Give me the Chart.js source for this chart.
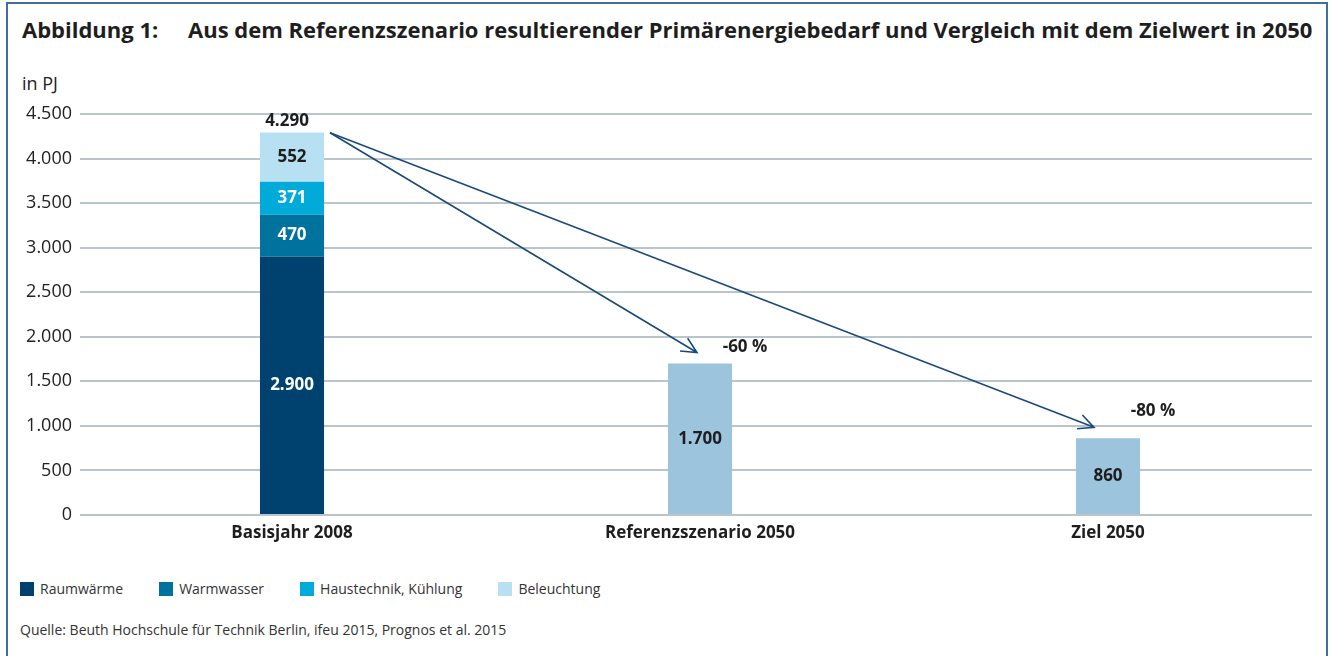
<!DOCTYPE html>
<html lang="de">
<head>
<meta charset="utf-8">
<title>Abbildung 1</title>
<script src="https://cdn.jsdelivr.net/npm/chart.js@4.4.1/dist/chart.umd.min.js"></script>
<style>
  html, body { margin: 0; padding: 0; background: #fff; }
  body { width: 1335px; height: 656px; position: relative; overflow: hidden;
         font-family: "Open Sans", "Noto Sans", sans-serif; color: #1e1e1e; }
  .frame { position: absolute; left: 6px; top: 2px; width: 1322px; height: 670px;
           border: 2px solid #3f6f9f; box-sizing: border-box; }
  h1 { position: absolute; left: 22px; top: 14px; margin: 0; font-size: 22px; line-height: 30px;
       font-weight: 700; white-space: nowrap; color: #1e1e1e; }
  h1 .txt { position: absolute; left: 166px; top: 0; }
  .unit { position: absolute; left: 22px; top: 70px; font-size: 18px; line-height: 26px; color: #222; }
  #chart { position: absolute; left: 0; top: 70px; }
  .legend { position: absolute; top: 579px; left: 20px; display: flex; gap: 36px; font-size: 14px; line-height: 20px; color: #333; }
  .legend .item { display: flex; align-items: center; white-space: nowrap; }
  .legend i { display: inline-block; width: 14px; height: 14px; margin-right: 6px; }
  .source { position: absolute; left: 20px; top: 620px; font-size: 14px; line-height: 20px; color: #333; }
</style>
</head>
<body>
<div class="frame"></div>
<h1>Abbildung 1:<span class="txt">Aus dem Referenzszenario resultierender Primärenergiebedarf und Vergleich mit dem Zielwert in 2050</span></h1>
<div class="unit">in PJ</div>
<canvas id="chart" width="1335" height="490"></canvas>
<div class="legend" id="legend"></div>
<div class="source">Quelle: Beuth Hochschule für Technik Berlin, ifeu 2015, Prognos et al. 2015</div>

<script>
// data
const categories = ['Basisjahr 2008', 'Referenzszenario 2050', 'Ziel 2050'];
const seriesNames = ['Raumwärme', 'Warmwasser', 'Haustechnik, Kühlung', 'Beleuchtung'];
const raumwaerme = [2900, null, null];
const warmwasser = [470, null, null];
const haustechnik = [371, null, null];
const beleuchtung = [552, null, null];
const szenarioWerte = [null, 1700, 860];
const basisGesamt = 4290;   // label printed above the first bar
const yMax = 4500;
const yStep = 500;

const seriesColors = ['#00426f', '#00729e', '#00aad9', '#b7e0f2'];
const szenarioColor = '#9cc4dd';
const labelColors = ['#fff', '#fff', '#fff', '#1e1e1e'];
const FONT = '"Open Sans", "Noto Sans", sans-serif';

function fmt(v) {
  return String(v).replace(/\B(?=(\d{3})+(?!\d))/g, '.');
}

const stacks = [raumwaerme, warmwasser, haustechnik, beleuchtung];

// html legend
const legendEl = document.getElementById('legend');
seriesNames.forEach((name, i) => {
  const item = document.createElement('span');
  item.className = 'item';
  item.innerHTML = '<i style="background:' + seriesColors[i] + '"></i>' + name;
  legendEl.appendChild(item);
});

const barLabels = {
  id: 'barLabels',
  afterDatasetsDraw(chart) {
    const ctx = chart.ctx;
    ctx.save();
    ctx.font = 'bold 17px ' + FONT;
    ctx.textAlign = 'center';
    ctx.textBaseline = 'middle';
    chart.data.datasets.forEach((ds, di) => {
      const meta = chart.getDatasetMeta(di);
      meta.data.forEach((bar, i) => {
        const v = ds.data[i];
        if (v == null) return;
        ctx.fillStyle = di < 4 ? labelColors[di] : '#1e1e1e';
        ctx.fillText(fmt(v), bar.x, (bar.y + bar.base) / 2);
      });
    });
    // total above first bar
    const top = chart.getDatasetMeta(3).data[0];
    ctx.fillStyle = '#1e1e1e';
    ctx.fillText(fmt(basisGesamt), top.x - 5, top.y - 11);
    ctx.restore();
  }
};

const arrows = {
  id: 'arrows',
  afterDatasetsDraw(chart, args, opts) {
    const ctx = chart.ctx;
    const y = chart.scales.y;
    const top = chart.getDatasetMeta(3).data[0];
    const sx = top.x + top.width / 2 + 6;
    const sy = y.getPixelForValue(basisGesamt);
    ctx.save();
    opts.targets.forEach(t => {
      const bar = chart.getDatasetMeta(4).data[t.index];
      const ex = bar.x + t.dx;
      const ey = bar.y - 11;
      ctx.strokeStyle = '#1a4a7a';
      ctx.lineWidth = 1.6;
      ctx.beginPath();
      ctx.moveTo(sx, sy);
      ctx.lineTo(ex, ey);
      const a = Math.atan2(ey - sy, ex - sx);
      const len = 17;
      ctx.moveTo(ex - len * Math.cos(a - 0.45), ey - len * Math.sin(a - 0.45));
      ctx.lineTo(ex, ey);
      ctx.lineTo(ex - len * Math.cos(a + 0.45), ey - len * Math.sin(a + 0.45));
      ctx.stroke();
      const pct = Math.round((szenarioWerte[t.index] / basisGesamt - 1) * 100);
      ctx.font = 'bold 17px ' + FONT;
      ctx.fillStyle = '#1e1e1e';
      ctx.textAlign = 'center';
      ctx.textBaseline = 'middle';
      ctx.fillText(pct + ' %', bar.x + 45, bar.y - t.labelGap);
    });
    ctx.restore();
  }
};

const datasets = stacks.map((arr, i) => ({
  label: seriesNames[i],
  data: arr,
  backgroundColor: seriesColors[i],
  stack: 's'
}));
datasets.push({ label: 'Szenario', data: szenarioWerte, backgroundColor: szenarioColor, stack: 's' });

new Chart(document.getElementById('chart'), {
  type: 'bar',
  data: { labels: categories, datasets: datasets },
  plugins: [barLabels, arrows],
  options: {
    responsive: false,
    devicePixelRatio: 1,
    animation: false,
    datasets: { bar: { barPercentage: 0.157, categoryPercentage: 1, skipNull: false } },
    layout: { padding: { top: 44, right: 23, left: 0, bottom: 0 } },
    plugins: {
      legend: { display: false },
      tooltip: { enabled: false },
      arrows: {
        targets: [
          { index: 1, dx: -3, labelGap: 16 },
          { index: 2, dx: -14, labelGap: 27 }
        ]
      }
    },
    scales: {
      x: {
        stacked: true,
        grid: { display: false, drawTicks: false },
        border: { display: false },
        ticks: { color: '#1e1e1e', padding: 8, font: { family: FONT, size: 17, weight: 'bold' } },
        afterFit(scale) { scale.height = 45; }
      },
      y: {
        stacked: true,
        min: 0,
        max: yMax,
        border: { display: false },
        grid: { color: '#b9c5cc', lineWidth: 2, drawTicks: true, tickLength: 8 },
        ticks: {
          stepSize: yStep,
          padding: 8,
          color: '#222',
          font: { family: FONT, size: 18 },
          callback: v => fmt(v)
        },
        afterFit(scale) { scale.width = 88; }
      }
    }
  }
});
</script>
</body>
</html>
